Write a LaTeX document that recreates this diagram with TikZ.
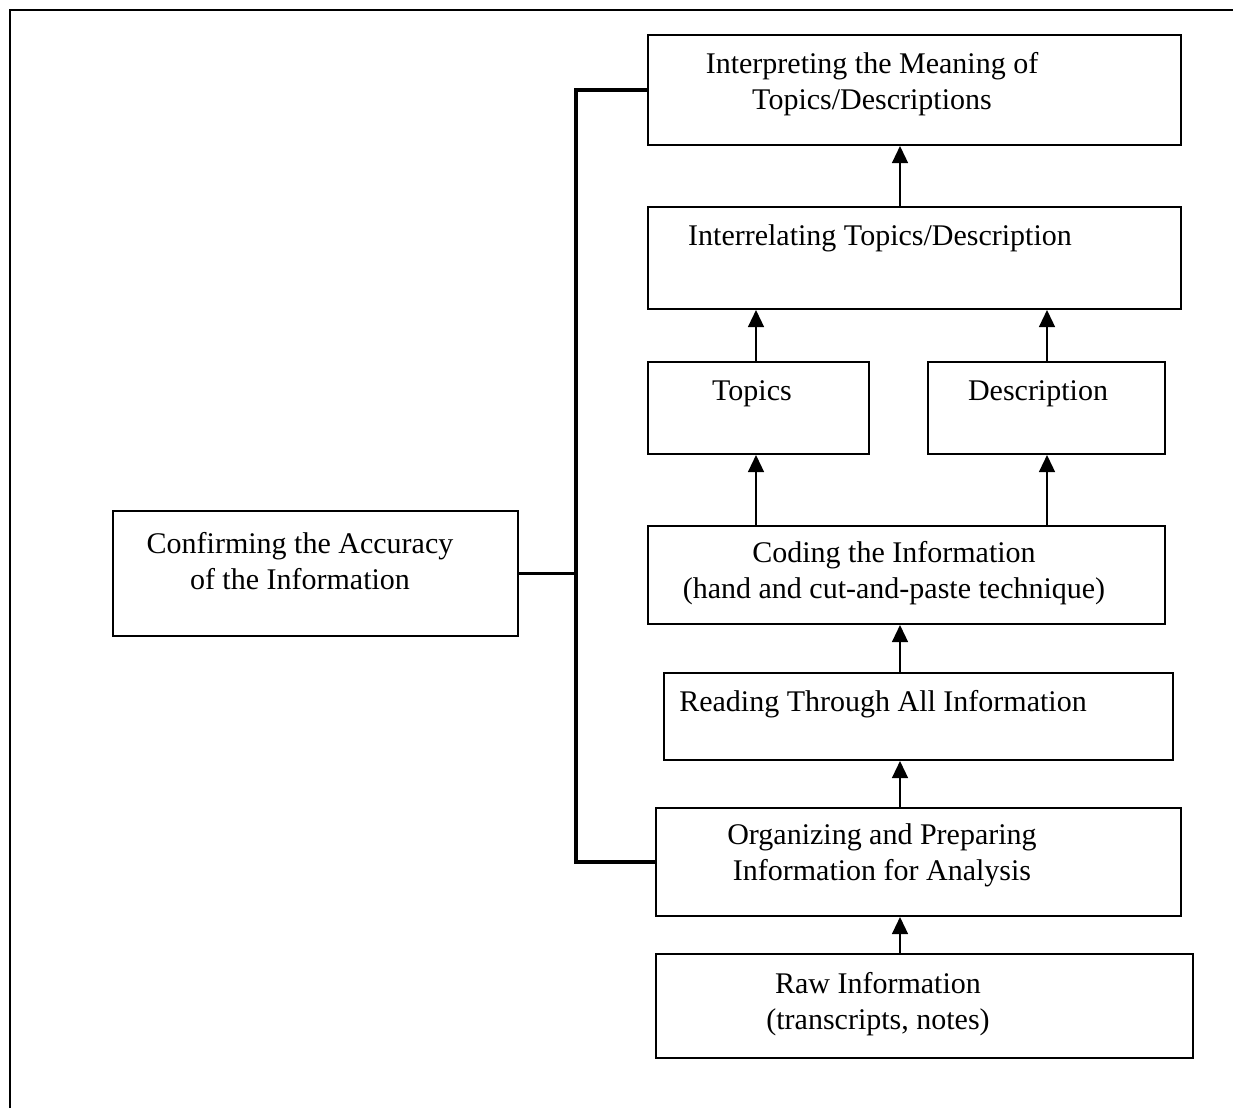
\documentclass[tikz,border=0pt]{standalone}
\usepackage{fontspec}
\setmainfont{Liberation Serif}
\usetikzlibrary{arrows.meta}

\begin{document}
\begin{tikzpicture}[x=0.41pt, y=-0.41pt,
      every node/.style = {font=\fontsize{12.3}{14.9}\selectfont, align=center},
      box/.style 2 args = {shape=rectangle, draw, line width=0.8pt,
        minimum width=#1*0.41pt, minimum height=#2*0.41pt, inner sep=0pt},
      txt/.style = {inner sep=0pt},
      up/.style = {line width=0.8pt, -{Triangle[width=6.5pt,length=7pt]}},
      bracketline/.style = {line width=1.3pt}]
  \useasboundingbox (0,0) rectangle (1235,1108);
  \draw[line width=1.1pt] (10,1108) -- (10,10) -- (1233,10);
  % boxes
  \node[box={533}{110}] (interp) at (914.5,90) {};
  \node[box={533}{102}] (interrel) at (914.5,258) {};
  \node[box={221}{92}] (topics) at (758.5,408) {};
  \node[box={237}{92}] (descr) at (1046.5,408) {};
  \node[box={517}{98}] (coding) at (906.5,575) {};
  \node[box={509}{87}] (reading) at (918.5,716.5) {};
  \node[box={525}{108}] (organize) at (918.5,862) {};
  \node[box={537}{104}] (raw) at (924.5,1006) {};
  \node[box={405}{125}] (confirm) at (315.5,573.5) {};
  % texts
  \node[txt] at (872,84) {Interpreting the Meaning of\\Topics/Descriptions};
  \node[txt] at (880,238) {Interrelating Topics/Description};
  \node[txt] at (752,394) {Topics};
  \node[txt] at (1038,394) {Description};
  \node[txt] at (894,573) {Coding the Information\\(hand and cut-and-paste technique)};
  \node[txt] at (883,704) {Reading Through All Information};
  \node[txt] at (882,855) {Organizing and Preparing\\Information for Analysis};
  \node[txt] at (878,1004) {Raw Information\\(transcripts, notes)};
  \node[txt] at (300,561) {Confirming the Accuracy\\of the Information};
  % arrows
  \coordinate (axis) at (900,0);
  \coordinate (left) at (756,0);
  \coordinate (right) at (1047,0);
  \draw[up] (raw.north -| axis) -- (organize.south -| axis);
  \draw[up] (organize.north -| axis) -- (reading.south -| axis);
  \draw[up] (reading.north -| axis) -- (coding.south -| axis);
  \draw[up] (coding.north -| left) -- (topics.south -| left);
  \draw[up] (coding.north -| right) -- (descr.south -| right);
  \draw[up] (topics.north -| left) -- (interrel.south -| left);
  \draw[up] (descr.north -| right) -- (interrel.south -| right);
  \draw[up] (interrel.north -| axis) -- (interp.south -| axis);
  % bracket
  \coordinate (bar) at (576,0);
  \draw[bracketline] (interp.west) -| (bar |- organize.west) -- (organize.west);
  \draw[bracketline] (confirm.east) -- (confirm.east -| bar);
\end{tikzpicture}
\end{document}
